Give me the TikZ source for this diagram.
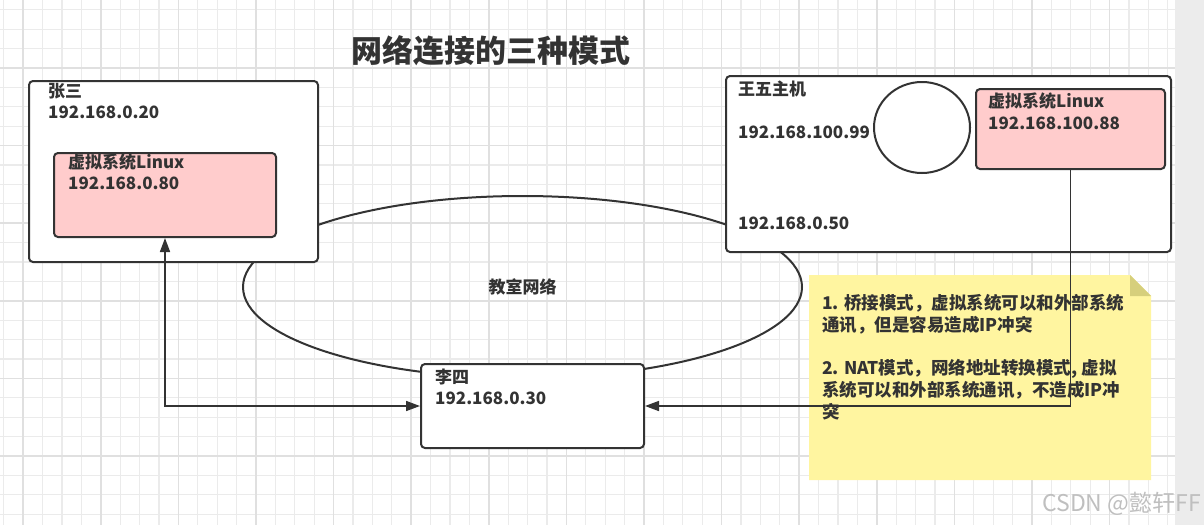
\documentclass[tikz,border=0pt]{standalone}
\usepackage{xcolor}
\usepackage{fontspec}
\newfontfamily\cjk{Noto Sans CJK SC}
\usepackage{tikz}
\usetikzlibrary{arrows.meta}
\usetikzlibrary{shapes.geometric}

\definecolor{ink}{HTML}{333333}
\definecolor{vmpink}{HTML}{FFCCCC}
\definecolor{noteyellow}{HTML}{FFF5A0}
\definecolor{notefold}{HTML}{D6CF7C}
\definecolor{gridminor}{HTML}{EBEBEB}
\definecolor{gridmajor}{HTML}{E0E0E0}
\definecolor{sidebar}{HTML}{ECECEC}

\begin{document}
\begin{tikzpicture}[x=1pt, y=-1pt,
        host/.style={draw=ink, line width=2pt, fill=white, rounded corners=4pt, anchor=north west, inner sep=0pt},
        vm/.style={host, fill=vmpink},
        txt/.style={text=ink, font=\cjk\bfseries\fontsize{17}{21}\selectfont, align=left, inner sep=0pt},
        title/.style={text=ink, font=\cjk\bfseries\fontsize{31}{36}\selectfont, inner sep=0pt},
        link/.style={draw=ink, line width=1.6pt, -{Triangle[length=14pt, width=10pt]}}
      ]
        \useasboundingbox (0,0) rectangle (1204,525);
        % grid paper
        \fill[white] (0,0) rectangle (1175,525);
        \foreach \i in {0,...,60}
          \draw[gridminor, line width=1.1pt] ({3.8+19.4*\i},0) -- ++(0,525);
        \foreach \j in {0,...,26}
          \draw[gridminor, line width=1.1pt] (0,{9.8+19.4*\j}) -- ++(1175,0);
        \foreach \i in {1,5,...,57}
          \draw[gridmajor, line width=1.5pt] ({3.8+19.4*\i},0) -- ++(0,525);
        \foreach \j in {3,7,...,23}
          \draw[gridmajor, line width=1.5pt] (0,{9.8+19.4*\j}) -- ++(1175,0);
        \fill[sidebar] (1175,0) rectangle (1204,525);

        \node[title] (title) at (491,51) {网络连接的三种模式};

        % classroom network
        \node[draw=ink, line width=2pt, ellipse, minimum width=559pt, minimum height=182pt, inner sep=0pt,
              text=ink, font=\cjk\bfseries\fontsize{17}{21}\selectfont] (net) at (522.5,287) {教室网络};

        % hosts
        \node[host, minimum width=289pt, minimum height=181pt] (zhang) at (28,80) {};
        \node[txt, anchor=north west] (zhanglbl) at (48,83.5) {张三\\192.168.0.20};
        \node[vm, minimum width=222pt, minimum height=84pt] (vm1) at (53,152) {};
        \node[txt, anchor=north west] (vm1lbl) at (68,153.5) {虚拟系统Linux\\192.168.0.80};

        \node[host, minimum width=223pt, minimum height=84pt] (lisi) at (420,363) {};
        \node[txt, anchor=north west] (lisilbl) at (435,368.5) {李四\\192.168.0.30};

        \node[host, minimum width=445pt, minimum height=176pt] (wangwu) at (725,75) {};
        \node[txt, anchor=west] (wangwulbl) at (738,89) {王五主机};
        \node[txt, anchor=west] (ip99) at (738,132) {192.168.100.99};
        \node[txt, anchor=west] (ip50) at (738,223) {192.168.0.50};
        \node[draw=ink, line width=2pt, fill=white, ellipse, minimum width=96pt, minimum height=91pt] (nic) at (922,127.5) {};
        \node[vm, minimum width=189pt, minimum height=80pt] (vm2) at (975,88) {};
        \node[txt, anchor=north west, font=\cjk\bfseries\fontsize{17}{22}\selectfont] (vm2lbl) at (988,92.5) {虚拟系统Linux\\192.168.100.88};

        % sticky note
        \fill[noteyellow] (809,275) -- (1130,275) -- (1151,296) -- (1151,480) -- (809,480) -- cycle;
        \fill[notefold] (1130,275) -- (1151,296) -- (1130,296) -- cycle;

        % connections
        \draw[link, {Triangle[length=14pt, width=10pt]}-{Triangle[length=14pt, width=10pt]}] (vm1.south) |- (lisi.west);
        \draw[link] (vm2.south) |- (lisi.east);

        \node[txt, anchor=north west, font=\cjk\bfseries\fontsize{17.5}{22}\selectfont] (notetxt) at (822,294.5)
          {1. 桥接模式，虚拟系统可以和外部系统\\通讯，但是容易造成IP冲突\\[21pt]2. NAT模式，网络地址转换模式, 虚拟\\系统可以和外部系统通讯，不造成IP冲\\突};

        \node[text=gray!50, font=\cjk\fontsize{23}{23}\selectfont, anchor=east, inner sep=0pt] (mark) at (1201,504) {CSDN @懿轩FF};
      \end{tikzpicture}
\end{document}
